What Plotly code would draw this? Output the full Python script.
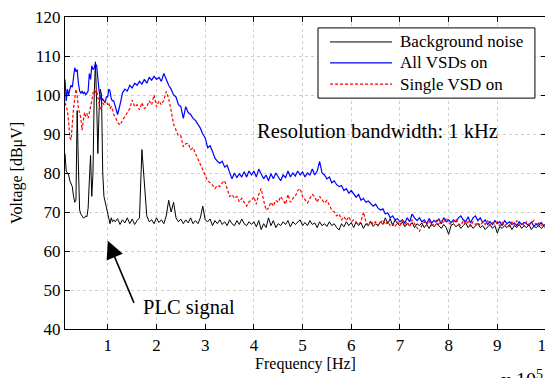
import numpy as np
import plotly.graph_objects as go

# frequency grid in units of 1e5 Hz
freq_lo = np.round(np.arange(0.12, 1.121, 0.025), 3)          # 41 points
freq_hi = np.round(np.arange(1.15, 10.001, 0.05), 3)          # 178 points
freq = np.concatenate([freq_lo, freq_hi])

background_lo = [85, 80.5, 80, 79.5, 78, 77, 76.5, 74, 72.5, 73,
                 96, 82, 70.5, 69.5, 69, 68.5, 68.5, 69, 68.8, 71,
                 78, 84.5, 74, 80, 100, 108.5, 98, 85, 96, 101.5,
                 100, 80, 74, 72.5, 71.8, 70, 68.5, 67, 68.5, 67.5,
                 68]
background_hi = [67.5, 68.3, 66.8, 68, 67.2, 68.5, 67, 68.2, 66.8, 67.8,
                 68.5, 86, 77, 69, 67.5, 68, 67, 68.5, 67.3, 68,
                 67, 69, 73, 70, 72.5, 68.5, 67.5, 68.2, 67, 68,
                 67.2, 68.5, 67, 67.8, 67, 68.5, 71.5, 68, 67.5, 68.2,
                 66.5, 67.8, 67, 68, 66.8, 67.5, 66.5, 68, 67, 66.5,
                 67.8, 66.8, 68.2, 67, 66.5, 67.5, 66.8, 67.5, 66.2, 67.8,
                 65.5, 67, 66, 68.5, 66.5, 67.8, 66, 67, 66.5, 67.5,
                 66.8, 67.8, 66.2, 67.5, 66.8, 67.5, 68, 66.5, 67.3, 66.5,
                 67.8, 66.8, 67.2, 66, 67.5, 66.5, 67, 66.3, 67.5, 66.5,
                 67, 66, 65.4, 67, 66.2, 67.5, 66.5, 67.3, 66, 67.5,
                 66.5, 67.2, 65.8, 67, 66.5, 67.5, 66.3, 67, 66.5, 67.5,
                 66.8, 68.5, 67, 68.3, 66.5, 68, 67, 66.5, 67.5, 66.2,
                 67, 66.5, 67.3, 66, 67, 66.5, 67.2, 66, 66.8, 65.8,
                 67, 66.2, 67, 66.5, 65.8, 66.8, 66, 64.3, 66.5, 67,
                 66.2, 66.8, 65.8, 66.5, 67.2, 66, 66.8, 65.8, 66.5, 67,
                 66, 66.5, 65.5, 66.3, 66.8, 65.8, 66.5, 64.6, 66.3, 65.8,
                 66.5, 66, 66.8, 65.5, 66.5, 66, 66.8, 65.8, 66.5, 66,
                 66.8, 65.5, 66.3, 66, 66.5, 65.8, 66.3, 66]

all_vsd_lo = [104, 98.5, 101.5, 100, 101.5, 102.5, 102, 105, 107, 106,
              106.5, 103, 101, 100.5, 101, 100.3, 100.8, 100, 100.5, 101,
              105.5, 104, 107.5, 106.5, 107, 108, 107.5, 104, 101, 99.5,
              98.5, 99, 98.5, 98, 99.5, 99.5, 101.5, 101, 99, 98.5,
              98.5]
all_vsd_hi = [97, 95, 97.5, 100.5, 101.5, 101, 102.5, 101.8, 103, 102.5,
              103.5, 102.8, 104, 103, 104.5, 103.8, 104.8, 104, 104.5, 103.5,
              105.5, 104, 102.5, 101.5, 100, 99.5, 97.5, 97, 94, 97,
              95.5, 95, 94, 93.5, 92.5, 91.5, 90, 89, 86.5, 87,
              85.5, 83.8, 83, 82.5, 83, 81.5, 82, 80, 78.5, 80,
              78.8, 79.8, 79, 80.3, 79, 80.5, 79.5, 80.5, 79, 81,
              79.5, 78.5, 79.5, 78, 79.8, 78.5, 80, 79, 78, 79.5,
              78.8, 80.5, 79, 80, 79.2, 80.5, 79.5, 80.3, 79, 80,
              79.5, 81, 79.5, 80.5, 83, 80, 79.5, 78.5, 79, 77.5,
              78, 77, 76.5, 76.8, 75.5, 76, 74.8, 75.5, 74.5, 73.8,
              74.5, 73, 73.5, 72.5, 72.8, 72, 71.5, 72, 71, 70.5,
              70.8, 69.5, 69.8, 68.5, 69, 68, 68.3, 67.5, 68, 67.2,
              68.5, 67.5, 69.5, 68.5, 67.8, 68.5, 67.5, 68, 67, 68.3,
              67.2, 67.8, 67.5, 68.2, 67, 68.5, 67.5, 68, 67.3, 68,
              67.5, 68.5, 69, 68, 67.5, 68.8, 67.2, 68.5, 69, 67.8,
              68.5, 67.3, 68, 66.8, 67.5, 66.8, 67.8, 67, 67.5, 66.5,
              67.8, 67, 67.5, 66.8, 67.2, 66.5, 67.5, 66.8, 67.3, 67,
              66.5, 67.5, 66.3, 67, 66.5, 67.3, 66.5, 67]

single_vsd_lo = [98, 97, 96, 93, 89, 88.5, 93, 96.5, 99, 101.5,
                 100, 96.5, 95.5, 94, 91, 94, 95.5, 94.5, 95.3, 94,
                 95.5, 96.5, 98.5, 100.5, 101.5, 100.5, 101.3, 99.5, 98, 96.2,
                 97, 98, 97.5, 98.5, 98.4, 97.5, 98, 96.5, 97, 96.5,
                 95]
single_vsd_hi = [94.5, 93, 92.3, 93.5, 94.5, 95.3, 96.5, 98.7, 97, 97.5,
                 96.2, 98, 96.5, 97, 98.5, 97.5, 100, 97, 98.5, 97.5,
                 98.7, 100.9, 99, 96, 92.5, 91, 89.5, 89.5, 86.7, 87.5,
                 87.6, 86, 86.5, 85, 83.5, 82, 80.5, 79, 78, 77.5,
                 76.9, 76, 76.8, 76.5, 77.5, 78, 76, 74, 74.5, 73.5,
                 74, 72.6, 73.5, 72.5, 71.5, 72.6, 73, 73.9, 72, 74.5,
                 76, 73, 70.5, 71, 72.5, 71.5, 73, 72.5, 74, 73,
                 72, 74.5, 72.5, 73.5, 74, 75.5, 76, 74, 73, 72.3,
                 73.5, 74.5, 73.9, 72.5, 74, 73, 72.3, 73, 71.5, 70.5,
                 70, 69, 69.5, 68, 68.8, 67.8, 68.8, 67.5, 68, 67.2,
                 66.8, 67.5, 70, 67.5, 66.5, 67.8, 66.8, 67.5, 66.5, 67.2,
                 68, 66.8, 67.5, 66.5, 67, 66.2, 67.5, 66.5, 67.8, 66.8,
                 67.5, 66.2, 68, 67, 66, 65, 66.5, 67.5, 66.8, 67.8,
                 66.5, 67, 67.8, 66.5, 68, 67.2, 68.5, 67.3, 66.8, 67.5,
                 68.2, 67, 66.5, 67.8, 66.8, 67.5, 66.3, 67.5, 66.8, 67.3,
                 66.5, 67.5, 66.8, 67.8, 66.5, 67.2, 66.8, 67.5, 66.5, 67.3,
                 66.5, 67, 66.3, 67.5, 66.5, 67.8, 66.8, 67.2, 66.5, 67.5,
                 66.8, 67.2, 67.8, 66.5, 67.2, 66.5, 67, 66.5]

background = background_lo + background_hi
all_vsd = all_vsd_lo + all_vsd_hi
single_vsd = single_vsd_lo + single_vsd_hi

series_names = ["Background noise", "All VSDs on", "Single VSD on"]
x_ticks = list(range(1, 11))
y_ticks = list(range(40, 121, 10))

FONT = "Liberation Serif, Times New Roman, Times, DejaVu Serif, serif"
colors = ["black", "#0000ff", "#ff0000"]
dashes = ["solid", "solid", "3px,2px"]
widths = [1, 1.2, 1.2]

fig = go.Figure()
for name, ys, c, d, w in zip(series_names, [background, all_vsd, single_vsd], colors, dashes, widths):
    fig.add_trace(go.Scatter(x=freq, y=ys, mode="lines", name=name,
                             line=dict(color=c, width=w, dash=d), showlegend=False))

axis_common = dict(showline=True, linecolor="black", linewidth=1.2, mirror="ticks",
                   ticks="inside", ticklen=5, tickcolor="black", automargin=False,
                   ticklabeloverflow="allow",
                   showgrid=True, gridcolor="#cfcfcf", griddash="3px,3px", gridwidth=1,
                   zeroline=False, tickfont=dict(family=FONT, size=17, color="black"))

fig.update_xaxes(range=[0.12, 10], tickvals=x_ticks, ticktext=[str(v) for v in x_ticks],
                 title=dict(text="Frequency [Hz]", font=dict(family=FONT, size=16, color="black"),
                            standoff=4), **axis_common)
fig.update_yaxes(range=[40, 120], tickvals=y_ticks, ticktext=[str(v) for v in y_ticks],
                 title=dict(text="Voltage [dBμV]", font=dict(family=FONT, size=16, color="black"),
                            standoff=10), **axis_common)

# manual legend box (positions in plot-area paper coordinates)
fig.add_shape(type="rect", xref="paper", yref="paper", x0=0.526, x1=0.977, y0=0.740, y1=0.965,
              line=dict(color="black", width=1), fillcolor="white", layer="above")
leg_y = [0.920, 0.853, 0.785]
for name, c, d, w, yy in zip(series_names, colors, dashes, widths, leg_y):
    fig.add_shape(type="line", xref="paper", yref="paper", x0=0.551, x1=0.680, y0=yy, y1=yy,
                  line=dict(color=c, width=w, dash=d), layer="above")
    fig.add_annotation(x=0.692, y=yy, xref="paper", yref="paper", text=name, showarrow=False,
                       xanchor="left", yanchor="middle",
                       font=dict(family=FONT, size=17, color="black"))

fig.add_annotation(x=6.53, y=90.8, xref="x", yref="y", text="Resolution bandwidth: 1 kHz",
                   showarrow=False, font=dict(family=FONT, size=20.5, color="black"))
fig.add_annotation(x=2.66, y=45.6, xref="x", yref="y", text="PLC signal",
                   showarrow=False, font=dict(family=FONT, size=20.5, color="black"))
fig.add_annotation(x=1.0, y=62.6, xref="x", yref="y", ax=1.55, ay=46.3, axref="x", ayref="y",
                   text="", showarrow=True, arrowhead=2, arrowsize=2.2, arrowwidth=1.6,
                   arrowcolor="black")
fig.add_annotation(x=0.998, y=-0.116, xref="paper", yref="paper", text="x 10<sup>5</sup>",
                   showarrow=False, xanchor="right", yanchor="top",
                   font=dict(family=FONT, size=20, color="black"))

# page body has an 8px margin: shift the figure up/left to compensate
fig.update_layout(
    width=545, height=370,
    margin=dict(l=57, r=7, t=9, b=49),
    paper_bgcolor="white", plot_bgcolor="white",
    font=dict(family=FONT, size=16, color="black"),
    showlegend=False,
)

fig.write_html("out.html")
